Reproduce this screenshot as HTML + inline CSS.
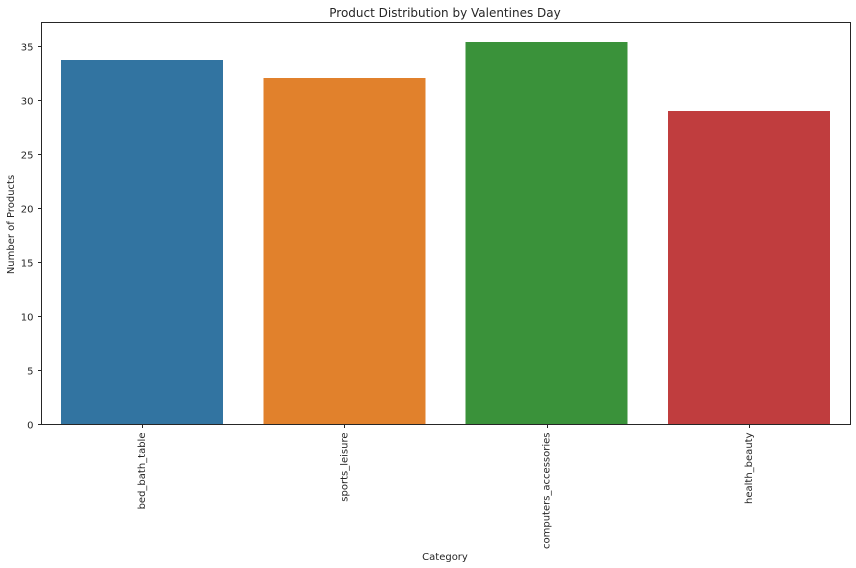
<!DOCTYPE html>
<html>
<head>
<meta charset="utf-8">
<title>Product Distribution by Valentines Day</title>
<style>
html,body{margin:0;padding:0;background:#fff;}
svg{display:block;}
text{font-family:"DejaVu Sans","Liberation Sans",sans-serif;fill:#262626;}
</style>
</head>
<body>
<svg id="chart" width="856" height="568" viewBox="0 0 856 568" xmlns="http://www.w3.org/2000/svg">
  <text x="445" y="17" font-size="12" text-anchor="middle">Product Distribution by Valentines Day</text>
  <g id="bars"></g>
  <g id="y-axis"></g>
  <g id="x-axis"></g>
  <rect x="41.5" y="22.5" width="809" height="402" fill="none" stroke="#262626" stroke-width="1"></rect>
  <text transform="translate(14,224.5) rotate(-90)" font-size="10" text-anchor="middle">Number of Products</text>
  <text x="445" y="560" font-size="10" text-anchor="middle">Category</text>
</svg>
<script>
const categories = ["bed_bath_table", "sports_leisure", "computers_accessories", "health_beauty"];
const values = [33.75, 32.08, 35.4, 29.03];
const colors = ["#3274a1", "#e1812c", "#3a923a", "#c03d3e"];
const yTicks = [0, 5, 10, 15, 20, 25, 30, 35];
const yMax = 37.22;

const NS = "http://www.w3.org/2000/svg";
const plotLeft = 41.5, plotRight = 850.5, plotTop = 22.5, plotBottom = 424.5;

function yScale(v) {
  return plotBottom - (v / yMax) * (plotBottom - plotTop);
}
function xBand() {
  return (plotRight - plotLeft) / categories.length;
}
function xCenter(i) {
  return plotLeft + xBand() * (i + 0.5);
}
function make(tag, attrs) {
  const el = document.createElementNS(NS, tag);
  for (const k in attrs) el.setAttribute(k, attrs[k]);
  return el;
}

const barsG = document.getElementById("bars");
const yG = document.getElementById("y-axis");
const xG = document.getElementById("x-axis");

categories.forEach(function (cat, i) {
  const w = xBand() * 0.8;
  const top = yScale(values[i]);
  const bar = make("rect", {
    x: xCenter(i) - 0.5 - w / 2,
    y: top,
    width: w,
    height: plotBottom - top,
    fill: colors[i],
    "shape-rendering": "crispEdges"
  });
  
  
  barsG.appendChild(bar);

  const cx = Math.floor(xCenter(i)) + 0.5;
  const tick = make("line", {
    x1: cx, x2: cx,
    y1: plotBottom, y2: plotBottom + 3.5,
    stroke: "#262626", "stroke-width": 1
  });
  
  
  xG.appendChild(tick);

  const label = make("text", {
    transform: "translate(" + (xCenter(i) + 2.5) + "," + (plotBottom + 8) + ") rotate(-90)",
    "font-size": 10,
    "text-anchor": "end"
  });
  label.textContent = cat;
  
  
  xG.appendChild(label);
});

yTicks.forEach(function (t) {
  const y = yScale(t);
  const py = Math.round(y - 0.5) + 0.5;
  const tick = make("line", {
    x1: plotLeft - 3.5, x2: plotLeft,
    y1: py, y2: py,
    stroke: "#262626", "stroke-width": 1
  });
  
  
  yG.appendChild(tick);

  const label = make("text", {
    x: plotLeft - 8,
    y: y + 4,
    "font-size": 10,
    "text-anchor": "end"
  });
  label.textContent = t;
  
  
  yG.appendChild(label);
});
</script>
</body>
</html>
